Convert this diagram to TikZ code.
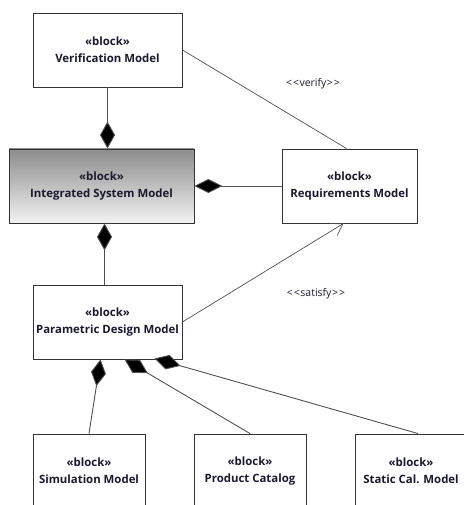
\documentclass[tikz,border=0pt]{standalone}
\usepackage{fontspec}
\setmainfont{Open Sans}
\usepackage{tikz}
\usetikzlibrary{arrows.meta,calc}

\definecolor{linegray}{HTML}{505050}
\definecolor{txtdark}{HTML}{1A1A2E}

\begin{document}
\begin{tikzpicture}[x=1pt,y=-1pt,
    block/.style={draw=black!80,line width=0.9pt,fill=white,minimum width=149pt,minimum height=74pt,
      align=center,inner sep=0pt,font=\fontsize{11.4}{17}\selectfont\bfseries,text=txtdark},
    gradblock/.style={block,top color=black!45,bottom color=black!5},
    comp/.style={draw=linegray,line width=0.9pt},
    stereo/.style={font=\fontsize{10.5}{12}\selectfont,text=txtdark}]
    \useasboundingbox (0,0) rectangle (463,505);

    % blocks
    \node[block] (verif) at (107.5,50) {«block»\\Verification Model};
    \node[gradblock,minimum width=185pt] (integ) at (101.5,186) {«block»\\Integrated System Model};
    \node[block,minimum width=135pt] (req) at (349.5,186) {«block»\\Requirements Model};
    \node[block] (param) at (107.5,322) {«block»\\Parametric Design Model};

    \node[block,minimum width=112pt] (sim) at (89,471) {«block»\\Simulation Model};
    \node[block,minimum width=112pt] (cat) at (250,471) {«block»\\Product Catalog};
    \node[block,minimum width=112pt] (stat) at (411,471) {«block»\\Static Cal. Model};

    % composition
    \draw[comp,-{Diamond[length=27pt,width=15pt,fill=black]}] (verif.south) -- (verif.south |- integ.north);
    \coordinate (is) at ($(integ.south)+(3,0)$);
    \draw[comp,{Diamond[length=27pt,width=15pt,fill=black]}-] (is) -- (is |- param.north);
    \draw[comp,-{Diamond[length=28pt,width=14pt,fill=black]}] (req.west) -- (integ.east);

    \coordinate (p1) at ($(param.south west)+(68,0)$);
    \coordinate (p2) at ($(param.south west)+(92,0)$);
    \coordinate (p3) at ($(param.south west)+(122,-1)$);
    \draw[comp,{Diamond[length=27pt,width=15pt,fill=black]}-] (p1) -- (sim.north);
    \draw[comp,{Diamond[length=27pt,width=15pt,fill=black]}-] (p2) -- (cat.north);
    \draw[comp,{Diamond[length=27pt,width=15pt,fill=black]}-] (p3) -- ($(stat.north)+(7,0)$);

    % verify / satisfy
    \draw[comp,line width=0.7pt] (verif.east) -- ($(req.north)+(-3,0)$);
    \node[stereo] (verlbl) at (313,84) {<\kern1pt<\kern0.5pt verify\kern0.5pt>\kern1pt>};
    \draw[comp,line width=0.7pt,-{Straight Barb[length=11pt,width=14pt]}] (param.east) -- ($(req.south)+(-6,0)$);
    \node[stereo] (satlbl) at (316,294) {<\kern1pt<\kern0.5pt satisfy\kern0.5pt>\kern1pt>};
\end{tikzpicture}
\end{document}
